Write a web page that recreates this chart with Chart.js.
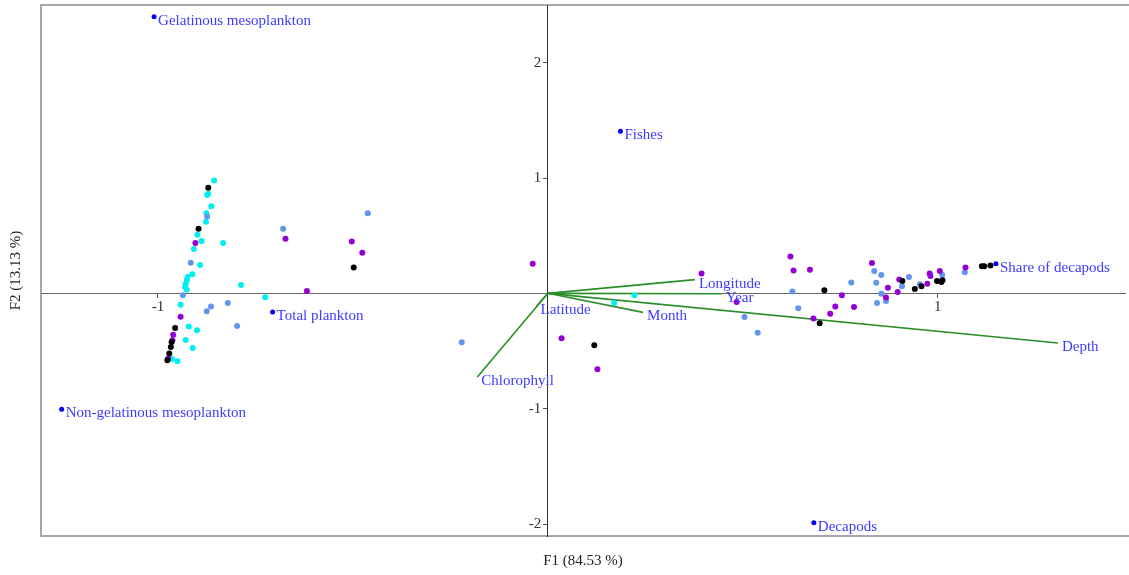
<!DOCTYPE html>
<html>
<head>
<meta charset="utf-8">
<script src="https://cdn.jsdelivr.net/npm/chart.js@4/dist/chart.umd.min.js"></script>
<style>
  body { margin: 0; background: #fff; }
  #wrap { width: 1129px; height: 575px; }
</style>
</head>
<body>
<div id="wrap"><canvas id="biplot" width="1129" height="575"></canvas></div>
<script>
"use strict";

// #region Data
const xTicks = [-1, 1];
const yTicks = [-2, -1, 1, 2];

// observations, one array per colour group : [F1, F2]
const obsCyan = [
    [-0.856, 0.978], [-0.871, 0.863], [-0.874, 0.853], [-0.863, 0.756], [-0.876, 0.695],
    [-0.877, 0.621], [-0.899, 0.508], [-0.888, 0.453], [-0.833, 0.437], [-0.908, 0.384],
    [-0.892, 0.245], [-0.912, 0.165], [-0.924, 0.141], [-0.926, 0.113], [-0.929, 0.084],
    [-0.931, 0.055], [-0.926, 0.032], [-0.787, 0.072], [-0.725, -0.035], [-0.942, -0.098],
    [-0.921, -0.288], [-0.900, -0.320], [-0.929, -0.405], [-0.911, -0.474], [-0.964, -0.569],
    [-0.950, -0.589], [0.222, -0.017], [0.170, -0.084],
];
const obsBlue = [
    [-0.874, 0.667], [-0.916, 0.266], [-0.936, -0.017], [-0.864, -0.115], [-0.875, -0.156],
    [-0.821, -0.084], [-0.797, -0.283], [-0.679, 0.560], [-0.462, 0.695], [-0.221, -0.424],
    [0.504, -0.205], [0.538, -0.341], [0.627, 0.017], [0.642, -0.130], [0.778, 0.095],
    [0.837, 0.193], [0.855, 0.159], [0.842, 0.092], [0.855, -0.003], [0.844, -0.084],
    [0.867, -0.066], [0.926, 0.141], [0.908, 0.061], [0.954, 0.078], [1.011, 0.159],
    [1.069, 0.182],
];
const obsPurple = [
    [-0.904, 0.437], [-0.942, -0.202], [-0.961, -0.358], [-0.963, -0.407], [-0.974, -0.566],
    [-0.618, 0.020], [-0.673, 0.474], [-0.503, 0.450], [-0.476, 0.352], [-0.039, 0.257],
    [0.035, -0.390], [0.127, -0.658], [0.394, 0.171], [0.484, -0.075], [0.622, 0.320],
    [0.630, 0.199], [0.672, 0.205], [0.681, -0.219], [0.754, -0.017], [0.737, -0.115],
    [0.724, -0.176], [0.785, -0.118], [0.831, 0.262], [0.867, -0.037], [0.872, 0.049],
    [0.901, 0.119], [0.897, 0.011], [0.973, 0.084], [0.979, 0.171], [0.981, 0.150],
    [1.005, 0.193], [1.071, 0.223],
];
const obsBlack = [
    [-0.871, 0.915], [-0.896, 0.561], [-0.498, 0.223], [-0.956, -0.300], [-0.965, -0.422],
    [-0.967, -0.465], [-0.971, -0.522], [-0.976, -0.580], [0.119, -0.450], [0.709, 0.026],
    [0.697, -0.260], [0.909, 0.107], [0.941, 0.037], [0.958, 0.061], [0.998, 0.107],
    [1.009, 0.098], [1.012, 0.113], [1.113, 0.234], [1.119, 0.234], [1.135, 0.242],
];

// response variables (labelled blue dots)
const speciesNames = ["Gelatinous mesoplankton", "Fishes", "Total plankton",
    "Non-gelatinous mesoplankton", "Decapods", "Share of decapods"];
const speciesX = [-1.010, 0.186, -0.706, -1.247, 0.682, 1.149];
const speciesY = [2.398, 1.405, -0.162, -1.004, -1.989, 0.257];

// explanatory variables (green vectors from the origin)
const varNames = ["Longitude", "Year", "Month", "Depth", "Chlorophyll", "Latitude"];
const varX = [0.377, 0.446, 0.244, 1.308, -0.181, -0.029];
const varY = [0.119, -0.003, -0.165, -0.430, -0.725, -0.110];
// #endregion

const FONT = "Liberation Serif, Times New Roman, serif";
const LABEL_BLUE = "#3b3bff";
const GREEN = "#2a8f2a";

const toXY = (arr) => arr.map((p) => ({ x: p[0], y: p[1] }));

function obsDataset(arr, colour) {
    return {
        data: toXY(arr),
        backgroundColor: colour,
        borderColor: colour,
        pointRadius: 3,
        pointBorderWidth: 0,
    };
}

const datasets = [
    obsDataset(obsBlack, "#000000"),
    obsDataset(obsPurple, "#9400d3"),
    obsDataset(obsBlue, "#6495ed"),
    obsDataset(obsCyan, "#00f0f0"),
    {
        data: speciesX.map((x, i) => ({ x: x, y: speciesY[i] })),
        backgroundColor: "#0000ee",
        borderColor: "#0000ee",
        pointRadius: 2.5,
        pointBorderWidth: 0,
        labels: speciesNames,
    },
];

varNames.forEach((name, i) => {
    datasets.push({
        data: [{ x: 0, y: 0 }, { x: varX[i], y: varY[i] }],
        showLine: true,
        borderColor: GREEN,
        borderWidth: 1.6,
        pointRadius: 0,
        labels: ["", name],
    });
});

// centred axes still push their label overflow into the layout; we don't want that
function noScalePadding(s) {
    s.paddingTop = 0;
    s.paddingBottom = 0;
    s.paddingLeft = 0;
    s.paddingRight = 0;
}

// #region Plugins
// frame, axis titles and point labels
const biplotExtras = {
    id: "biplotExtras",
    beforeDraw(chart) {
        const { ctx, chartArea: a } = chart;
        ctx.save();
        ctx.strokeStyle = "#a6a6a6";
        ctx.lineWidth = 2;
        ctx.beginPath();
        ctx.moveTo(a.right + 4, a.top);
        ctx.lineTo(a.left, a.top);
        ctx.lineTo(a.left, a.bottom);
        ctx.lineTo(a.right + 4, a.bottom);
        ctx.stroke();
        ctx.restore();
    },
    afterDatasetsDraw(chart) {
        const { ctx, chartArea: a } = chart;
        const sx = chart.scales.x;
        const sy = chart.scales.y;
        ctx.save();
        ctx.font = "15px " + FONT;
        ctx.textBaseline = "middle";
        ctx.textAlign = "left";
        ctx.fillStyle = LABEL_BLUE;
        chart.data.datasets.forEach((ds) => {
            if (!ds.labels) return;
            ds.data.forEach((p, j) => {
                const txt = ds.labels[j];
                if (!txt) return;
                const px = sx.getPixelForValue(p.x);
                const py = sy.getPixelForValue(p.y);
                ctx.fillText(txt, px + 4, py + 4);
            });
        });

        // axis titles
        ctx.fillStyle = "#222";
        ctx.textAlign = "center";
        ctx.fillText("F1 (84.53 %)", (a.left + a.right) / 2, 561);
        ctx.translate(16, (a.top + a.bottom) / 2);
        ctx.rotate(-Math.PI / 2);
        ctx.fillText("F2 (13.13 %)", 0, 0);
        ctx.restore();
    },
};
// #endregion

const config = {
    type: "scatter",
    data: { datasets: datasets },
    options: {
        responsive: false,
        animation: false,
        layout: { padding: { left: 41, top: 5, right: 0, bottom: 39 } },
        plugins: {
            legend: { display: false },
            tooltip: { enabled: false },
        },
        scales: {
            x: {
                type: "linear",
                min: -1.30,
                max: 1.48,
                position: { y: 0 },
                afterBuildTicks: (s) => { s.ticks = xTicks.map((v) => ({ value: v })); },
                afterFit: noScalePadding,
                grid: { drawOnChartArea: false, tickLength: 4, color: "#555" },
                border: { color: "#666", width: 1 },
                ticks: { font: { family: FONT, size: 15 }, color: "#333", padding: 1 },
            },
            y: {
                type: "linear",
                min: -2.104,
                max: 2.5,
                position: { x: 0 },
                afterBuildTicks: (s) => { s.ticks = yTicks.map((v) => ({ value: v })); },
                afterFit: noScalePadding,
                grid: { drawOnChartArea: false, tickLength: 4, color: "#555" },
                border: { color: "#333", width: 1 },
                // labels of an axis placed at x = 0 sit right on the line, so pad them with spaces
                ticks: {
                    font: { family: FONT, size: 15 },
                    color: "#333",
                    callback: (v) => v + " \u2009",
                },
            },
        },
    },
    plugins: [biplotExtras],
};

const myChart = new Chart(document.getElementById("biplot"), config);
</script>
</body>
</html>
